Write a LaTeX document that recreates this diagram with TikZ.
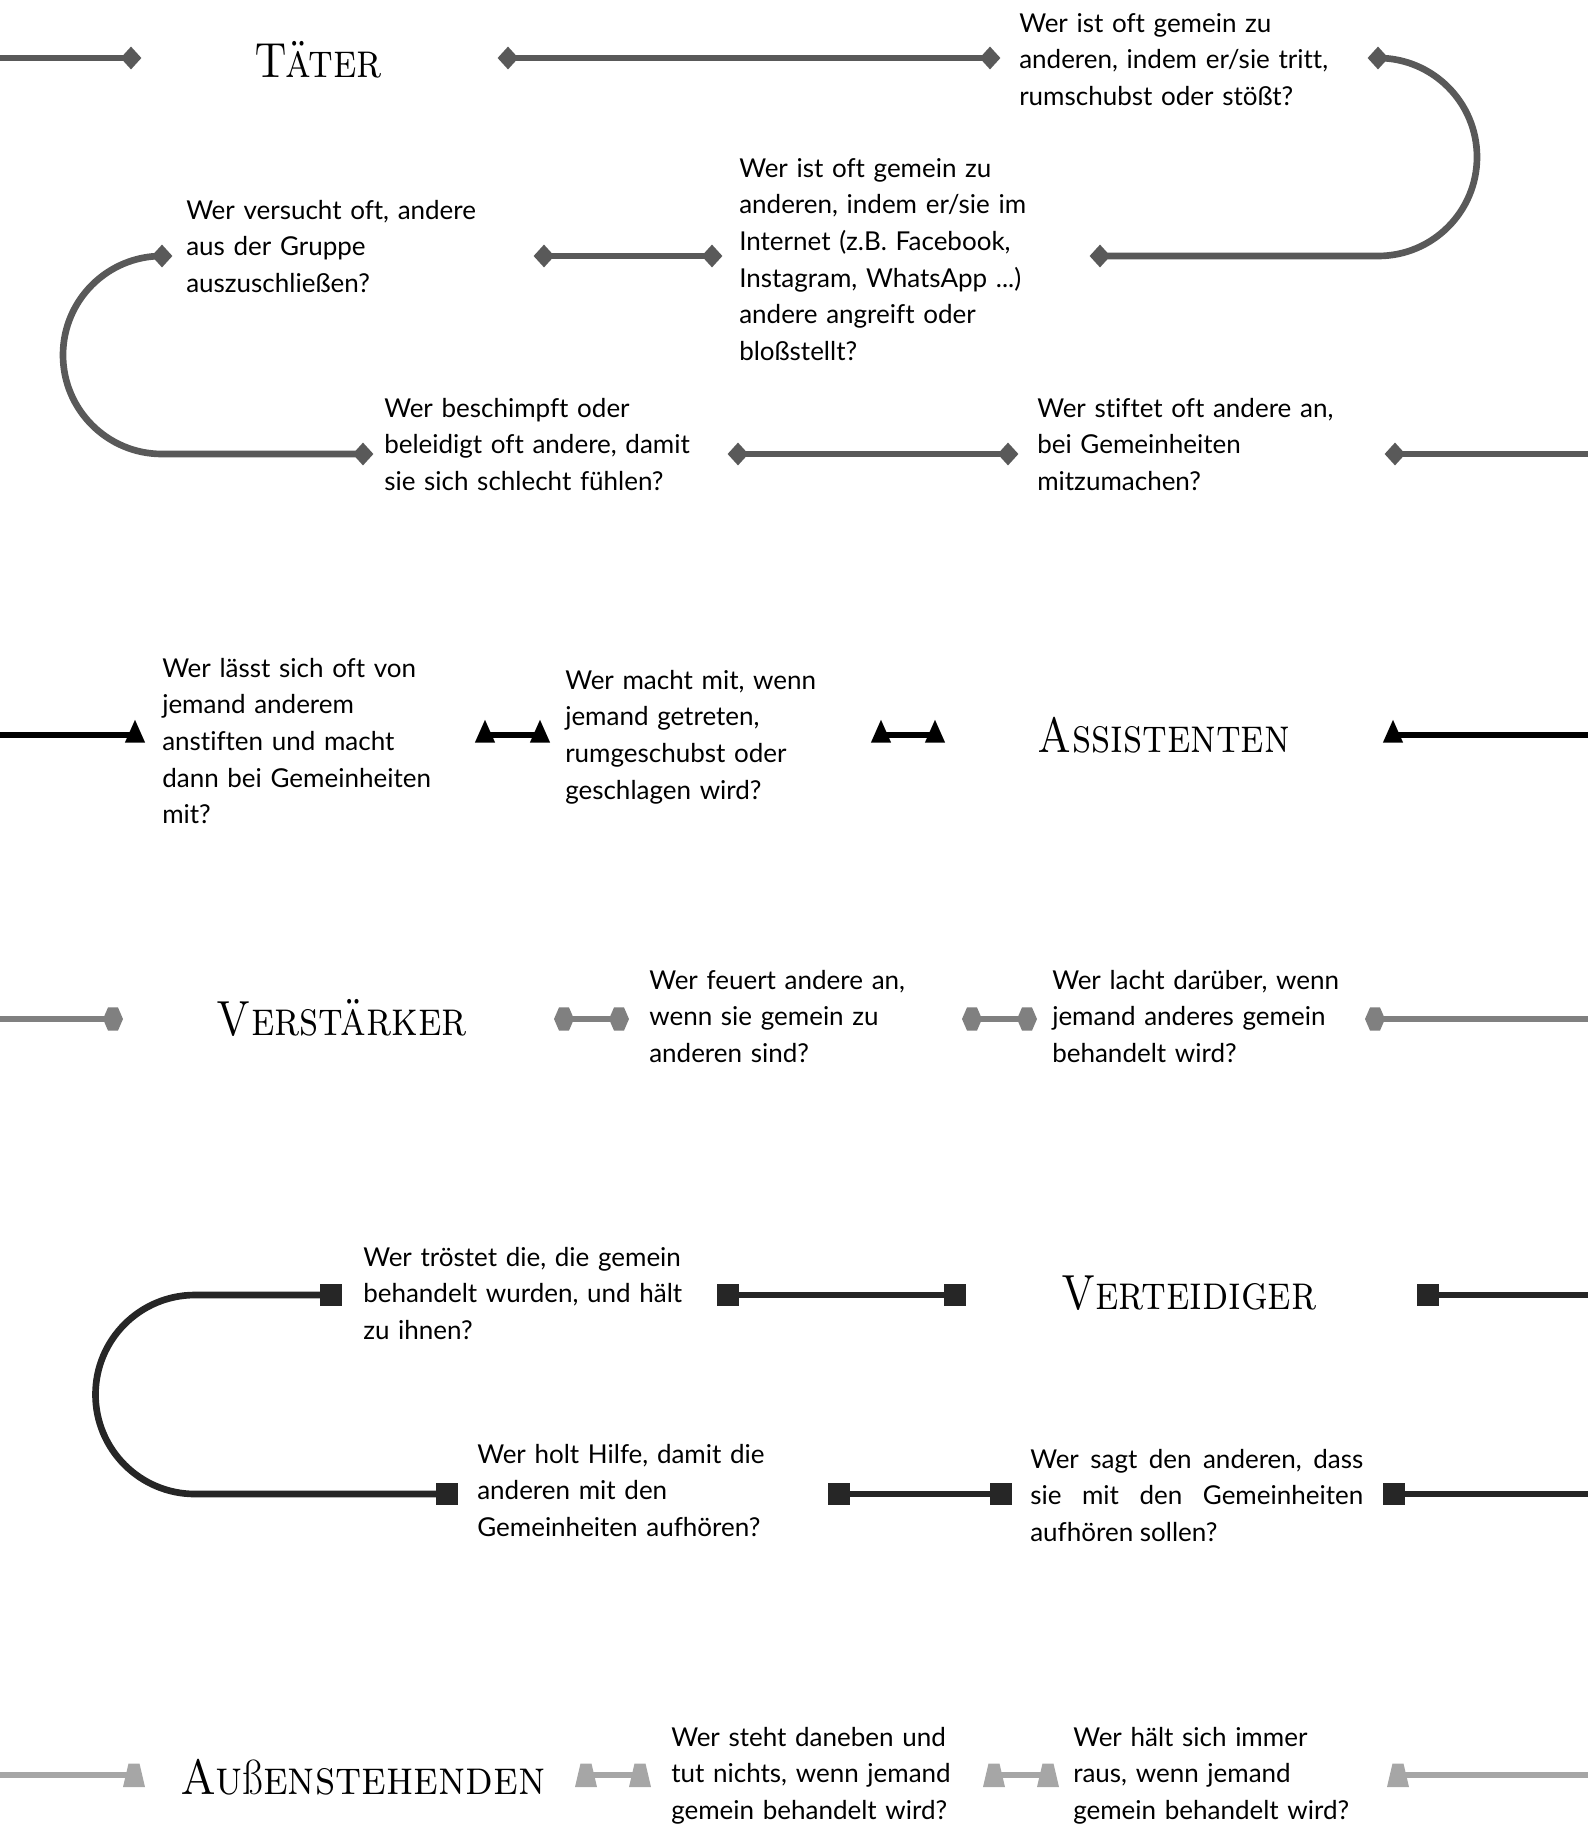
\documentclass[tikz,border=0pt]{standalone}
\usepackage{fontspec}
\usepackage{graphicx}
\usetikzlibrary{shapes.geometric}
\newfontfamily\qfont[Ligatures=NoCommon]{Lato}
\colorlet{taetergray}{black!65}
\colorlet{verstgray}{black!50}
\colorlet{vertblack}{black!85}
\colorlet{aussengray}{black!35}
\frenchspacing
\begin{document}
\begin{tikzpicture}[
	x=0.75pt, y=-0.75pt,
	q/.style={anchor=base west, inner sep=0pt, text width=280pt, align=left,
		font=\qfont\fontsize{19.5}{27.5}\selectfont},
	head/.style={anchor=base, inner sep=0pt, font=\rmfamily\fontsize{37}{44}\selectfont},
	link/.style={line width=5pt},
	dia/.style={diamond, fill=taetergray, inner sep=0pt, minimum width=15.75pt, minimum height=17.25pt},
	tri/.style={regular polygon, regular polygon sides=3, fill=black, inner sep=0pt, minimum size=17.5pt, yscale=1.3},
	hexa/.style={regular polygon, regular polygon sides=6, fill=verstgray, inner sep=0pt, minimum size=20pt, xscale=0.75},
	sq/.style={rectangle, fill=vertblack, inner sep=0pt, minimum size=16.5pt},
	trapmark/.pic={\fill[aussengray] (-11,12) -- (11,12) -- (5.5,-11.5) -- (-5.5,-11.5) -- cycle;}
]
	\useasboundingbox (0,0) rectangle (1588,1825);
	\def\sc#1{\scalebox{0.85}[1]{#1}}

	% headings
	\node[head] (taeter) at (318,77) {\sc{\textsc{Täter}}};
	\node[head] (assist) at (1164,752) {\sc{\textsc{Assistenten}}};
	\node[head] (verst) at (342,1035) {\sc{\textsc{Verstärker}}};
	\node[head] (vert) at (1189,1309) {\sc{\textsc{Verteidiger}}};
	\node[head] (aussen) at (363,1794) {\scalebox{0.9}[1]{\textsc{Au}ß\textsc{enstehenden}}};

	% questions
	\node[q] (q1) at (1019,32) {Wer ist oft gemein zu\\anderen, indem er/sie tritt,\\rumschubst oder stößt?};
	\node[q] (q2) at (186,219) {Wer versucht oft, andere\\aus der Gruppe\\auszuschließen?};
	\node[q] (q3) at (739,177) {Wer ist oft gemein zu\\anderen, indem er/sie im\\Internet (z.B. Facebook,\\Instagram, WhatsApp ...)\\andere angreift oder\\bloßstellt?};
	\node[q] (q4) at (384,417) {Wer beschimpft oder\\beleidigt oft andere, damit\\sie sich schlecht fühlen?};
	\node[q] (q5) at (1037,417) {Wer stiftet oft andere an,\\bei Gemeinheiten\\mitzumachen?};
	\node[q] (q6) at (162,677) {Wer lässt sich oft von\\jemand anderem\\anstiften und macht\\dann bei Gemeinheiten\\mit?};
	\node[q] (q7) at (565,689) {Wer macht mit, wenn\\jemand getreten,\\rumgeschubst oder\\geschlagen wird?};
	\node[q] (q8) at (649,989) {Wer feuert andere an,\\wenn sie gemein zu\\anderen sind?};
	\node[q] (q9) at (1052,989) {Wer lacht darüber, wenn\\jemand anderes gemein\\behandelt wird?};
	\node[q] (q10) at (363,1266) {Wer tröstet die, die gemein\\behandelt wurden, und hält\\zu ihnen?};
	\node[q] (q11) at (477,1463) {Wer holt Hilfe, damit die\\anderen mit den\\Gemeinheiten aufhören?};
	\node[q, text width=249.75pt, align=justify] (q12) at (1030,1468) {Wer sagt den anderen, dass\linebreak sie mit den Gemeinheiten\linebreak aufhören sollen?};
	\node[q] (q13) at (671,1746) {Wer steht daneben und\\tut nichts, wenn jemand\\gemein behandelt wird?};
	\node[q] (q14) at (1073,1746) {Wer hält sich immer\\raus, wenn jemand\\gemein behandelt wird?};

	% markers
	\foreach \n/\x/\y in {d1/131/58, d2/508/58, d3/990/58, d4/1378/58, d5/1100/256, d6/712/256,
		d7/544/256, d8/162/256, d9/363/454, d10/738/454, d11/1008/454, d12/1395/454}
		\node[dia] (\n) at (\x,\y) {};
	\foreach \n/\x in {t1/135, t2/485, t3/540, t4/881, t5/935, t6/1393}
		\node[tri] (\n) at (\x,735) {};
	\foreach \n/\x in {h1/113, h2/564, h3/619, h4/972, h5/1027, h6/1375}
		\node[hexa] (\n) at (\x,1019) {};
	\foreach \n/\x/\y in {s1/331/1295, s2/728/1295, s3/955/1295, s4/1428/1295,
		s5/447/1494, s6/839/1494, s7/1001/1494, s8/1394/1494}
		\node[sq] (\n) at (\x,\y) {};
	\foreach \n/\x in {z1/134, z2/586, z3/640, z4/994, z5/1048, z6/1398}{
		\coordinate (\n) at (\x,1775);
		\pic at (\n) {trapmark};
	}

	% free ends at the page border
	\coordinate (e1) at (0,58);
	\coordinate (e2) at (1588,454);
	\coordinate (e3) at (0,735);
	\coordinate (e4) at (1588,735);
	\coordinate (e5) at (0,1019);
	\coordinate (e6) at (1588,1019);
	\coordinate (e7) at (1588,1295);
	\coordinate (e8) at (1588,1494);
	\coordinate (e9) at (0,1775);
	\coordinate (e10) at (1588,1775);

	% connectors
	\begin{scope}[link, taetergray]
		\draw (e1) -- (d1.center);
		\draw (d2.center) -- (d3.center);
		\draw (d4.center) arc[start angle=-90, end angle=90, radius=99] -- (d5.center);
		\draw (d6.center) -- (d7.center);
		\draw (d8.center) arc[start angle=-90, end angle=-270, radius=99] -- (d9.center);
		\draw (d10.center) -- (d11.center);
		\draw (d12.center) -- (e2);
	\end{scope}
	\begin{scope}[link, black]
		\draw (e3) -- (t1.center);
		\draw (t2.center) -- (t3.center);
		\draw (t4.center) -- (t5.center);
		\draw (t6.center) -- (e4);
	\end{scope}
	\begin{scope}[link, verstgray]
		\draw (e5) -- (h1.center);
		\draw (h2.center) -- (h3.center);
		\draw (h4.center) -- (h5.center);
		\draw (h6.center) -- (e6);
	\end{scope}
	\begin{scope}[link, vertblack]
		\draw (s1.center) -- ++(-136,0) arc[start angle=-90, end angle=-270, radius=99.5] -- (s5.center);
		\draw (s2.center) -- (s3.center);
		\draw (s4.center) -- (e7);
		\draw (s6.center) -- (s7.center);
		\draw (s8.center) -- (e8);
	\end{scope}
	\begin{scope}[link, aussengray]
		\draw (e9) -- (z1);
		\draw (z2) -- (z3);
		\draw (z4) -- (z5);
		\draw (z6) -- (e10);
	\end{scope}
\end{tikzpicture}
\end{document}
